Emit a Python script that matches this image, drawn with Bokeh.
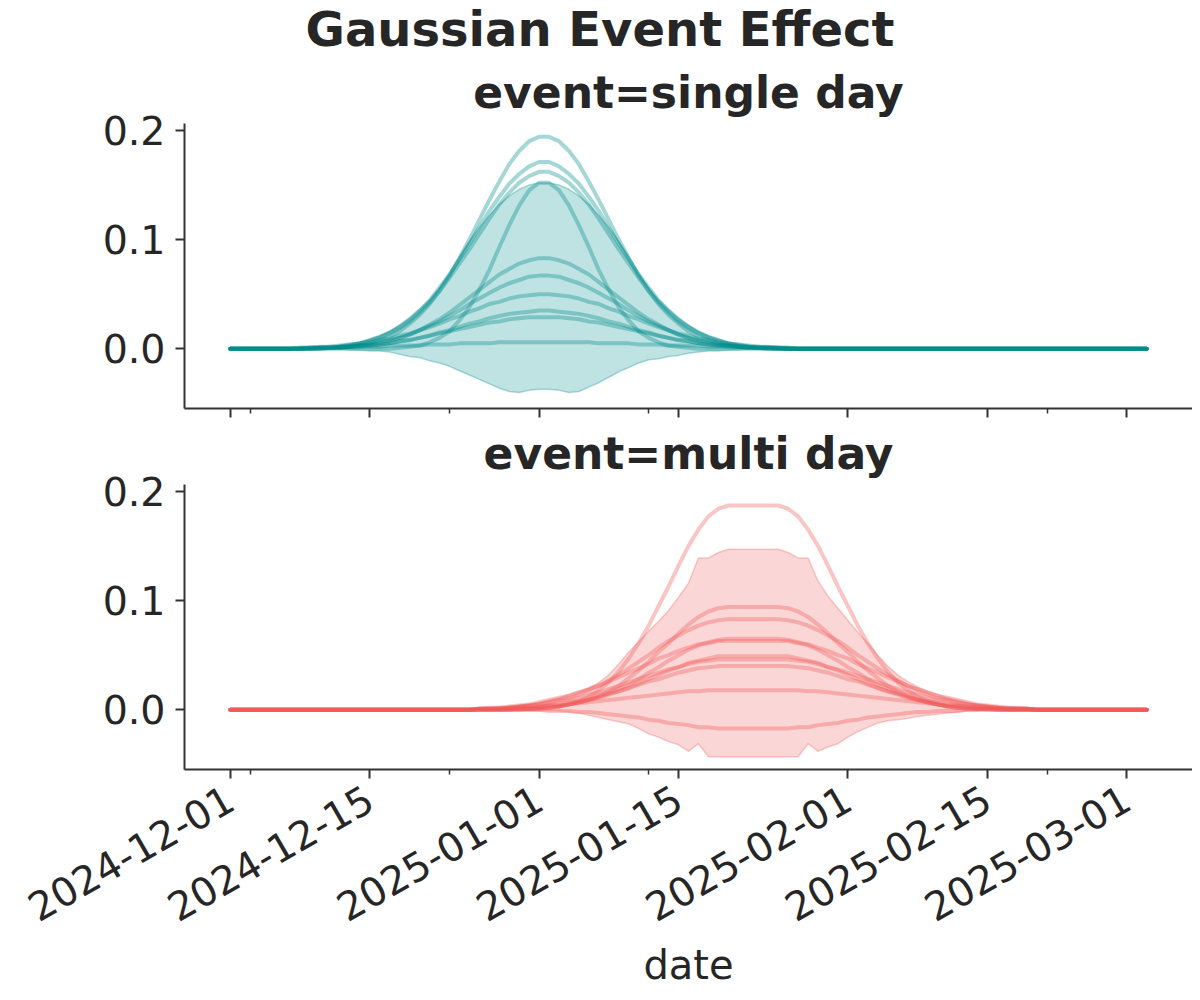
import math
import pandas as pd
from bokeh.plotting import figure
from bokeh.layouts import column
from bokeh.models import (FixedTicker, DatetimeTickFormatter, CustomJSTickFormatter,
                          PrintfTickFormatter, Range1d, Title, ColumnDataSource)
from bokeh.embed import file_html
from bokeh.resources import INLINE

# ---------------------------------------------------------------- data
date_first = "2024-12-01"
date_last = "2025-03-03"

title_text = "Gaussian Event Effect"
panel_titles = ["event=single day", "event=multi day"]
x_axis_label = "date"

x_major_ticks = ["2024-12-01", "2024-12-15", "2025-01-01", "2025-01-15",
                 "2025-02-01", "2025-02-15", "2025-03-01"]
x_minor_ticks = ["2024-12-03", "2024-12-23", "2025-01-12", "2025-02-21"]
y_ticks = [0.0, 0.1, 0.2]

# event = single day : daily values from 2024-12-08 to 2025-01-26 (zero outside)
single_window_start = "2024-12-08"
single_samples = [
    [0.0, 0.0, 0.0, 0.001, 0.001, 0.002, 0.003, 0.005, 0.008, 0.011, 0.016, 0.023, 0.031, 0.041, 0.053, 0.067, 0.083, 0.100, 0.118, 0.136, 0.153, 0.169, 0.181, 0.190, 0.194,
     0.194, 0.190, 0.181, 0.169, 0.153, 0.136, 0.118, 0.100, 0.083, 0.067, 0.053, 0.041, 0.031, 0.023, 0.016, 0.011, 0.008, 0.005, 0.003, 0.002, 0.001, 0.001, 0.0, 0.0, 0.0],
    [0.0, 0.001, 0.001, 0.002, 0.002, 0.004, 0.005, 0.008, 0.011, 0.015, 0.020, 0.027, 0.035, 0.044, 0.056, 0.068, 0.082, 0.096, 0.111, 0.126, 0.139, 0.151, 0.160, 0.167, 0.171,
     0.171, 0.167, 0.160, 0.151, 0.139, 0.126, 0.111, 0.096, 0.082, 0.068, 0.056, 0.044, 0.035, 0.027, 0.020, 0.015, 0.011, 0.008, 0.005, 0.004, 0.002, 0.002, 0.001, 0.001, 0.0],
    [0.0, 0.001, 0.001, 0.001, 0.002, 0.003, 0.005, 0.007, 0.010, 0.014, 0.019, 0.025, 0.033, 0.042, 0.053, 0.065, 0.078, 0.091, 0.105, 0.119, 0.132, 0.143, 0.152, 0.158, 0.162,
     0.162, 0.158, 0.152, 0.143, 0.132, 0.119, 0.105, 0.091, 0.078, 0.065, 0.053, 0.042, 0.033, 0.025, 0.019, 0.014, 0.010, 0.007, 0.005, 0.003, 0.002, 0.001, 0.001, 0.001, 0.0],
    [0.0, 0.0, 0.0, 0.0, 0.0, 0.0, 0.0, 0.0, 0.0, 0.0, 0.001, 0.002, 0.003, 0.006, 0.010, 0.016, 0.026, 0.038, 0.054, 0.072, 0.093, 0.113, 0.131, 0.145, 0.152,
     0.152, 0.145, 0.131, 0.113, 0.093, 0.072, 0.054, 0.038, 0.026, 0.016, 0.010, 0.006, 0.003, 0.002, 0.001, 0.0, 0.0, 0.0, 0.0, 0.0, 0.0, 0.0, 0.0, 0.0, 0.0],
    [0.0, 0.0, 0.0, 0.001, 0.001, 0.002, 0.003, 0.004, 0.005, 0.007, 0.010, 0.013, 0.017, 0.022, 0.027, 0.033, 0.040, 0.047, 0.054, 0.061, 0.068, 0.073, 0.078, 0.081, 0.083,
     0.083, 0.081, 0.078, 0.073, 0.068, 0.061, 0.054, 0.047, 0.040, 0.033, 0.027, 0.022, 0.017, 0.013, 0.010, 0.007, 0.005, 0.004, 0.003, 0.002, 0.001, 0.001, 0.0, 0.0, 0.0],
    [0.0, 0.0, 0.001, 0.001, 0.002, 0.002, 0.003, 0.004, 0.006, 0.008, 0.010, 0.013, 0.017, 0.021, 0.025, 0.030, 0.035, 0.041, 0.046, 0.051, 0.056, 0.060, 0.063, 0.066, 0.067,
     0.067, 0.066, 0.063, 0.060, 0.056, 0.051, 0.046, 0.041, 0.035, 0.030, 0.025, 0.021, 0.017, 0.013, 0.010, 0.008, 0.006, 0.004, 0.003, 0.002, 0.002, 0.001, 0.001, 0.0, 0.0],
    [0.001, 0.001, 0.002, 0.002, 0.003, 0.004, 0.005, 0.006, 0.008, 0.009, 0.012, 0.014, 0.017, 0.020, 0.023, 0.027, 0.030, 0.034, 0.037, 0.041, 0.043, 0.046, 0.048, 0.049, 0.050,
     0.050, 0.049, 0.048, 0.046, 0.043, 0.041, 0.037, 0.034, 0.030, 0.027, 0.023, 0.020, 0.017, 0.014, 0.012, 0.009, 0.008, 0.006, 0.005, 0.004, 0.003, 0.002, 0.002, 0.001, 0.001],
    [0.0, 0.0, 0.001, 0.001, 0.001, 0.002, 0.002, 0.003, 0.004, 0.005, 0.007, 0.008, 0.010, 0.012, 0.015, 0.017, 0.020, 0.023, 0.025, 0.028, 0.030, 0.032, 0.033, 0.034, 0.035,
     0.035, 0.034, 0.033, 0.032, 0.030, 0.028, 0.025, 0.023, 0.020, 0.017, 0.015, 0.012, 0.010, 0.008, 0.007, 0.005, 0.004, 0.003, 0.002, 0.002, 0.001, 0.001, 0.001, 0.0, 0.0],
    [0.0, 0.001, 0.001, 0.001, 0.002, 0.002, 0.003, 0.003, 0.004, 0.005, 0.007, 0.008, 0.010, 0.012, 0.014, 0.016, 0.018, 0.020, 0.022, 0.024, 0.025, 0.027, 0.028, 0.029, 0.029,
     0.029, 0.029, 0.028, 0.027, 0.025, 0.024, 0.022, 0.020, 0.018, 0.016, 0.014, 0.012, 0.010, 0.008, 0.007, 0.005, 0.004, 0.003, 0.003, 0.002, 0.002, 0.001, 0.001, 0.001, 0.0],
    [0.001, 0.001, 0.001, 0.001, 0.001, 0.002, 0.002, 0.002, 0.002, 0.003, 0.003, 0.003, 0.003, 0.004, 0.004, 0.004, 0.005, 0.005, 0.005, 0.005, 0.006, 0.006, 0.006, 0.006, 0.006,
     0.006, 0.006, 0.006, 0.006, 0.006, 0.005, 0.005, 0.005, 0.005, 0.004, 0.004, 0.004, 0.003, 0.003, 0.003, 0.003, 0.002, 0.002, 0.002, 0.002, 0.001, 0.001, 0.001, 0.001, 0.001],
]
single_hdi_upper = [0.001, 0.001, 0.002, 0.002, 0.003, 0.004, 0.006, 0.009, 0.012, 0.016, 0.022, 0.028, 0.036, 0.045, 0.056, 0.069, 0.084, 0.098, 0.111, 0.122, 0.132, 0.140, 0.146, 0.150, 0.152,
                    0.152, 0.150, 0.146, 0.140, 0.132, 0.122, 0.111, 0.098, 0.084, 0.069, 0.056, 0.045, 0.036, 0.028, 0.022, 0.016, 0.012, 0.009, 0.006, 0.004, 0.003, 0.002, 0.002, 0.001, 0.001]
single_hdi_lower = [0.0, 0.0, 0.0, 0.0, 0.0,
                    -0.001, -0.001, -0.002, -0.002, -0.003, -0.005, -0.007, -0.008, -0.011, -0.013,
                    -0.016, -0.020, -0.024, -0.028, -0.032, -0.036, -0.039, -0.040, -0.038, -0.037,
                    -0.037, -0.038, -0.040, -0.039, -0.035, -0.031, -0.026, -0.021, -0.017, -0.013,
                    -0.010, -0.009, -0.007, -0.006, -0.004, -0.003, -0.002, -0.002, -0.001, -0.001,
                    0.0, 0.0, 0.0, 0.0, 0.0]

# event = multi day : daily values from 2024-12-26 to 2025-02-19 (zero outside)
multi_window_start = "2024-12-26"
multi_samples = [
    [0.0, 0.0, 0.0, 0.0, 0.0, 0.001, 0.001, 0.002, 0.003, 0.005, 0.008, 0.012, 0.018, 0.025, 0.035, 0.047, 0.061, 0.077, 0.095, 0.113, 0.132, 0.150, 0.165, 0.177, 0.184,
     0.187, 0.187, 0.187, 0.187, 0.187, 0.187,
     0.184, 0.177, 0.165, 0.150, 0.132, 0.113, 0.095, 0.077, 0.061, 0.047, 0.035, 0.025, 0.018, 0.012, 0.008, 0.005, 0.003, 0.002, 0.001, 0.001, 0.0, 0.0, 0.0, 0.0, 0.0],
    [0.0, 0.0, 0.0, 0.0, 0.001, 0.001, 0.001, 0.002, 0.003, 0.005, 0.007, 0.009, 0.013, 0.017, 0.022, 0.029, 0.036, 0.044, 0.053, 0.061, 0.070, 0.078, 0.085, 0.090, 0.093,
     0.094, 0.094, 0.094, 0.094, 0.094, 0.094,
     0.093, 0.090, 0.085, 0.078, 0.070, 0.061, 0.053, 0.044, 0.036, 0.029, 0.022, 0.017, 0.013, 0.009, 0.007, 0.005, 0.003, 0.002, 0.001, 0.001, 0.001, 0.0, 0.0, 0.0, 0.0],
    [0.001, 0.001, 0.001, 0.002, 0.003, 0.004, 0.005, 0.007, 0.009, 0.011, 0.014, 0.018, 0.022, 0.027, 0.032, 0.038, 0.044, 0.050, 0.057, 0.063, 0.068, 0.073, 0.077, 0.080, 0.082,
     0.083, 0.083, 0.083, 0.083, 0.083, 0.083,
     0.082, 0.080, 0.077, 0.073, 0.068, 0.063, 0.057, 0.050, 0.044, 0.038, 0.032, 0.027, 0.022, 0.018, 0.014, 0.011, 0.009, 0.007, 0.005, 0.004, 0.003, 0.002, 0.001, 0.001, 0.001],
    [0.0, 0.0, 0.0, 0.0, 0.001, 0.001, 0.002, 0.002, 0.003, 0.005, 0.007, 0.009, 0.012, 0.015, 0.019, 0.023, 0.028, 0.034, 0.039, 0.045, 0.050, 0.055, 0.059, 0.062, 0.064,
     0.065, 0.065, 0.065, 0.065, 0.065, 0.065,
     0.064, 0.062, 0.059, 0.055, 0.050, 0.045, 0.039, 0.034, 0.028, 0.023, 0.019, 0.015, 0.012, 0.009, 0.007, 0.005, 0.003, 0.002, 0.002, 0.001, 0.001, 0.0, 0.0, 0.0, 0.0],
    [0.001, 0.002, 0.002, 0.003, 0.004, 0.005, 0.007, 0.009, 0.011, 0.013, 0.016, 0.019, 0.022, 0.026, 0.030, 0.034, 0.038, 0.042, 0.047, 0.050, 0.054, 0.057, 0.060, 0.061, 0.063,
     0.063, 0.063, 0.063, 0.063, 0.063, 0.063,
     0.063, 0.061, 0.060, 0.057, 0.054, 0.050, 0.047, 0.042, 0.038, 0.034, 0.030, 0.026, 0.022, 0.019, 0.016, 0.013, 0.011, 0.009, 0.007, 0.005, 0.004, 0.003, 0.002, 0.002, 0.001],
    [0.0, 0.0, 0.0, 0.001, 0.001, 0.001, 0.002, 0.003, 0.004, 0.005, 0.007, 0.009, 0.011, 0.014, 0.017, 0.020, 0.024, 0.028, 0.032, 0.036, 0.039, 0.043, 0.045, 0.047, 0.049,
     0.049, 0.049, 0.049, 0.049, 0.049, 0.049,
     0.049, 0.047, 0.045, 0.043, 0.039, 0.036, 0.032, 0.028, 0.024, 0.020, 0.017, 0.014, 0.011, 0.009, 0.007, 0.005, 0.004, 0.003, 0.002, 0.001, 0.001, 0.001, 0.0, 0.0, 0.0],
    [0.001, 0.001, 0.002, 0.002, 0.003, 0.004, 0.005, 0.006, 0.008, 0.009, 0.011, 0.014, 0.016, 0.019, 0.022, 0.025, 0.028, 0.031, 0.034, 0.037, 0.039, 0.042, 0.044, 0.045, 0.046,
     0.046, 0.046, 0.046, 0.046, 0.046, 0.046,
     0.046, 0.045, 0.044, 0.042, 0.039, 0.037, 0.034, 0.031, 0.028, 0.025, 0.022, 0.019, 0.016, 0.014, 0.011, 0.009, 0.008, 0.006, 0.005, 0.004, 0.003, 0.002, 0.002, 0.001, 0.001],
    [0.001, 0.001, 0.001, 0.001, 0.002, 0.003, 0.003, 0.004, 0.005, 0.007, 0.008, 0.010, 0.012, 0.015, 0.017, 0.020, 0.023, 0.026, 0.028, 0.031, 0.034, 0.036, 0.038, 0.039, 0.040,
     0.040, 0.040, 0.040, 0.040, 0.040, 0.040,
     0.040, 0.039, 0.038, 0.036, 0.034, 0.031, 0.028, 0.026, 0.023, 0.020, 0.017, 0.015, 0.012, 0.010, 0.008, 0.007, 0.005, 0.004, 0.003, 0.003, 0.002, 0.001, 0.001, 0.001, 0.001],
    [0.001, 0.001, 0.001, 0.002, 0.002, 0.002, 0.003, 0.004, 0.004, 0.005, 0.006, 0.007, 0.008, 0.009, 0.010, 0.011, 0.012, 0.013, 0.014, 0.015, 0.016, 0.017, 0.017, 0.018, 0.018,
     0.018, 0.018, 0.018, 0.018, 0.018, 0.018,
     0.018, 0.018, 0.017, 0.017, 0.016, 0.015, 0.014, 0.013, 0.012, 0.011, 0.010, 0.009, 0.008, 0.007, 0.006, 0.005, 0.004, 0.004, 0.003, 0.002, 0.002, 0.002, 0.001, 0.001, 0.001],
    [0.0, 0.0, 0.0, 0.0, 0.0, 0.0, 0.0, -0.001, -0.001, -0.001, -0.002, -0.002, -0.003, -0.004, -0.005, -0.006, -0.007, -0.009, -0.010, -0.012, -0.013, -0.014, -0.016, -0.016, -0.017,
     -0.017, -0.017, -0.017, -0.017, -0.017, -0.017,
     -0.017, -0.016, -0.016, -0.014, -0.013, -0.012, -0.010, -0.009, -0.007, -0.006, -0.005, -0.004, -0.003, -0.002, -0.002, -0.001, -0.001, -0.001, 0.0, 0.0, 0.0, 0.0, 0.0, 0.0, 0.0],
]
multi_hdi_upper = [0.001, 0.002, 0.002, 0.003, 0.004, 0.005, 0.007, 0.009, 0.011, 0.014,
                   0.017, 0.020, 0.025, 0.032, 0.042, 0.053, 0.062, 0.072, 0.081, 0.091,
                   0.103, 0.116, 0.139, 0.139, 0.144, 0.147, 0.147, 0.147, 0.147, 0.147,
                   0.147, 0.144, 0.139, 0.139, 0.118, 0.104, 0.093, 0.082, 0.071, 0.061,
                   0.050, 0.040, 0.032, 0.026, 0.021, 0.017, 0.014, 0.011, 0.009, 0.007,
                   0.005, 0.004, 0.003, 0.002, 0.002, 0.001]
multi_hdi_lower = [0.0, 0.0, 0.0, 0.0, -0.001, -0.001, -0.001, -0.001, -0.001, -0.002,
                   -0.003, -0.005, -0.007, -0.009, -0.011, -0.013, -0.017, -0.022, -0.025, -0.029,
                   -0.032, -0.038, -0.031, -0.043, -0.043, -0.043, -0.043, -0.043, -0.043, -0.043,
                   -0.043, -0.043, -0.043, -0.031, -0.038, -0.034, -0.031, -0.025, -0.020, -0.016,
                   -0.012, -0.010, -0.009, -0.008, -0.006, -0.005, -0.004, -0.003, -0.002, -0.001,
                   -0.001, 0.0, 0.0, 0.0, 0.0, 0.0]

# ---------------------------------------------------------------- helpers
dates = pd.date_range(date_first, date_last, freq="D")
n_days = len(dates)


def on_all_dates(window_start, vals):
    i0 = (pd.Timestamp(window_start) - dates[0]).days
    vals = list(vals)
    out = [0.0] * i0 + vals + [0.0] * max(0, n_days - i0 - len(vals))
    return out[:n_days]


def ms(d):
    return pd.Timestamp(d).value // 10**6


FONT = "DejaVu Sans"
TXT = "#262626"
SPINE = "#333333"
TEAL = "#008b8b"
RED = "#f05a5a"
TICK_FS = "39.5px"

pad = (dates[-1] - dates[0]) * 0.05
x_range = Range1d(dates[0] - pad, dates[-1] + pad)
y_range = Range1d(-0.0546, 0.2062)

x_ticker = FixedTicker(ticks=[ms(d) for d in x_major_ticks],
                       minor_ticks=[ms(d) for d in x_minor_ticks])


def make_panel(height, border_bottom, show_x_labels):
    p = figure(width=1192, height=height, x_axis_type="datetime",
               x_range=x_range, y_range=y_range,
               output_backend="svg", toolbar_location=None,
               min_border_left=184, min_border_right=0,
               min_border_top=0, min_border_bottom=border_bottom)
    p.grid.visible = False
    p.outline_line_color = None
    p.background_fill_color = "white"
    p.border_fill_color = "white"
    for ax in (p.xaxis[0], p.yaxis[0]):
        ax.axis_line_color = SPINE
        ax.axis_line_width = 2
        ax.major_tick_line_color = SPINE
        ax.major_tick_line_width = 2
        ax.major_tick_out = 9
        ax.major_tick_in = 0
        ax.minor_tick_line_color = SPINE
        ax.minor_tick_line_width = 1.5
        ax.minor_tick_out = 5
        ax.minor_tick_in = 0
        ax.major_label_text_font = FONT
        ax.major_label_text_color = TXT
        ax.major_label_text_font_size = TICK_FS
    p.yaxis.ticker = FixedTicker(ticks=y_ticks)
    p.yaxis.formatter = PrintfTickFormatter(format="%.1f")
    p.yaxis.major_label_standoff = 10
    p.xaxis.ticker = x_ticker
    if show_x_labels:
        p.xaxis.formatter = DatetimeTickFormatter(
            days="%Y-%m-%d", months="%Y-%m-%d", years="%Y-%m-%d",
            hours="%Y-%m-%d", hourmin="%Y-%m-%d", minutes="%Y-%m-%d")
        p.xaxis.major_label_orientation = math.pi / 6
        p.xaxis.major_label_standoff = 17
    else:
        p.xaxis.formatter = CustomJSTickFormatter(code="return ''")
        p.xaxis.major_label_text_font_size = "1px"
        p.xaxis.major_label_standoff = 0
    return p


def draw(p, window_start, samples, upper, lower, color):
    src = ColumnDataSource(dict(date=dates,
                                lo=on_all_dates(window_start, lower),
                                hi=on_all_dates(window_start, upper)))
    p.varea(x="date", y1="lo", y2="hi", source=src, fill_color=color, fill_alpha=0.25)
    p.line("date", "hi", source=src, line_color=color, line_alpha=0.3, line_width=1.5)
    p.line("date", "lo", source=src, line_color=color, line_alpha=0.3, line_width=1.5)
    for s in samples:
        p.line(list(dates), on_all_dates(window_start, s), line_color=color,
               line_alpha=0.35, line_width=4, line_cap="round", line_join="round")


def title(text, size, align="center", offset=0, valign="bottom", standoff=12):
    return Title(text=text, align=align, offset=offset, vertical_align=valign,
                 standoff=standoff, text_font=FONT, text_font_size=size,
                 text_font_style="bold", text_color=TXT)


# top panel (suptitle + first panel title above its frame)
p1 = make_panel(419, 11, False)
draw(p1, single_window_start, single_samples, single_hdi_upper, single_hdi_lower, TEAL)
p1.add_layout(title(panel_titles[0], "44px", standoff=12), "above")
p1.add_layout(title(title_text, "48px", align="left", offset=121, valign="top", standoff=0), "above")

# bottom panel
p2 = make_panel(573, 223, True)
draw(p2, multi_window_start, multi_samples, multi_hdi_upper, multi_hdi_lower, RED)
p2.add_layout(title(panel_titles[1], "44px", standoff=12), "above")
p2.xaxis.axis_label = x_axis_label
p2.xaxis.axis_label_text_font = FONT
p2.xaxis.axis_label_text_font_size = "40px"
p2.xaxis.axis_label_text_font_style = "normal"
p2.xaxis.axis_label_text_color = TXT
p2.xaxis.axis_label_standoff = 4

layout = column(p1, p2, spacing=0)
with open("out.html", "w") as f:
    f.write(file_html(layout, INLINE, title=title_text))
